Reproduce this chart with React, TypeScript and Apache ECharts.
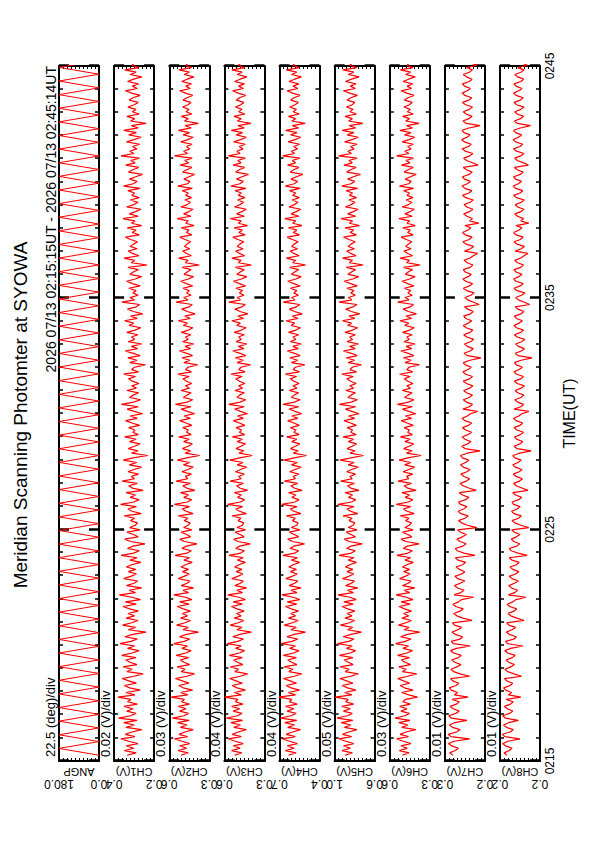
import React, { useEffect, useRef } from "react";
import * as echarts from "echarts";

const FONT = "'Liberation Sans', Arial, sans-serif";

const titleText = "Meridian Scanning Photomter at SYOWA";
const subTitleText = "2026 07/13 02:15:15UT - 2026 07/13 02:45:14UT";
const panelNames = ["ANGP", "CH1(V)", "CH2(V)", "CH3(V)", "CH4(V)", "CH5(V)", "CH6(V)", "CH7(V)", "CH8(V)"];
const perDivLabels = ["22.5 (deg)/div", "0.02 (V)/div", "0.03 (V)/div", "0.04 (V)/div", "0.04 (V)/div", "0.05 (V)/div", "0.03 (V)/div", "0.01 (V)/div", "0.01 (V)/div"];
const maxLabels = ["180.0", "0.4", "0.6", "0.6", "0.7", "1.0", "0.6", "0.3", "0.2"];
const minLabels = ["0.0", "0.2", "0.3", "0.3", "0.4", "0.6", "0.3", "0.2", "0.2"];
const lows = [0, 0.2, 0.3, 0.25, 0.35, 0.55, 0.3, 0.2, 0.15];
const perDiv = [18, 0.02, 0.03, 0.04, 0.04, 0.05, 0.03, 0.01, 0.01];
const timeLabelHours = "02";
const startMinute = 15;
const dataStartSec = 15;
const dataEndSec = 1814;

// scan angle (deg): turning points of the meridian scan
const angp = [
  0,180,0,180,0,180,0,180,0,180,0,180,0,180,0,180,0,180,0,180,
  0,180,0,180,0,180,0,180,0,180,0,180,0,180,0,180,0,180,0,180,
  0,180,0,180,0,180,0,180,0,180,0,180,0,180,0,180,0,180,0,180,
  0,180,0,180,0,180,0,180,0,180,0,180,0,180,0,180,0,180,0,180,
  0,180,0,180,0,180,0,180,0,180,0,180,0,180,0,180,0,180,0,180,
  0,180,0
];

// channel values in mV
const ch1 = [
  335,290,348,302,339,281,327,366,296,344,310,262,341,299,352,285,378,318,291,337,
  305,351,284,333,316,381,296,341,270,322,349,289,327,360,301,255,336,310,355,286,
  320,342,291,362,309,276,333,297,371,316,284,346,306,240,329,293,358,312,280,340,
  298,331,279,322,356,290,344,268,311,374,293,325,262,338,301,282,352,317,288,329,
  292,339,313,266,321,285,365,302,274,333,306,246,318,347,280,303,336,270,322,295,
  283,318,297,349,264,310,331,289,368,301,275,320,293,340,255,309,327,284,360,298,
  314,278,331,300,263,324,287,354,306,232,313,281,329,298,270,323,290,347,279,307,
  296,327,272,311,343,284,320,258,300,335,279,364,302,268,323,305,277,336,289,312,
  276,309,328,293,352,278,313,298,244,322,285,331,270,304,345,283,314,262,329,297,
  313,281,337,295,267,325,302,348,284,318,257,303,333,290,272,361,299,321,280,306,
  290,327,270,308,338,295,263,321,304,279,331,236,314,297,350,276,308,330,285,320,
  303,283,318,344,274,309,291,334,262,313,296,356,279,324,293,266,337,302,281,319,
  275,311,298,331,270,353,304,285,323,292,258,328,306,277,342,295,317,273,366,301,
  322,286,308,272,338,301,265,327,289,352,280,314,240,318,297,336,274,309,291,331,
  299,279,325,306,270,312,344,284,309,278,333,302,262,320,290,347,276,311,296,304
];
const ch2 = [
  512,458,533,470,520,447,505,560,463,527,482,420,517,466,538,451,576,490,455,522,
  474,532,449,508,486,586,461,515,425,495,529,452,502,554,469,410,511,480,540,447,
  489,518,455,548,475,436,506,462,566,487,446,524,472,380,498,458,545,482,440,515,
  463,503,441,495,540,452,522,430,480,565,455,498,418,511,466,444,532,489,449,501,
  456,512,478,428,490,447,556,466,434,505,472,392,486,521,440,469,510,431,492,458,
  443,487,460,531,421,474,504,448,562,465,432,491,455,516,408,470,498,442,548,461,
  479,434,505,461,420,493,447,539,470,372,480,440,501,459,427,492,450,528,435,471,
  457,498,430,475,521,442,489,410,463,511,437,553,466,424,494,468,436,512,449,478,
  432,470,497,451,534,433,478,460,387,490,445,503,426,467,524,440,481,417,499,458,
  478,438,510,455,423,494,463,532,442,483,406,465,506,450,428,548,460,492,437,470,
  449,497,425,470,514,456,418,489,466,436,503,375,480,458,530,434,469,500,446,486,
  466,440,482,521,431,471,452,509,415,476,457,540,437,492,453,422,512,465,441,484,
  433,476,457,502,427,535,463,445,490,451,410,499,469,430,518,455,484,428,560,462,
  492,446,471,429,513,461,420,495,448,531,436,480,382,486,458,509,430,474,452,500,
  460,437,496,469,424,478,522,443,475,434,507,465,416,488,449,527,433,476,455,468
];
const ch3 = [
  548,476,578,492,560,462,540,610,481,571,510,430,556,489,585,468,628,520,474,562,
  497,577,464,541,515,648,480,550,440,522,572,470,533,598,492,418,545,507,590,466,
  518,557,472,600,499,448,538,480,620,516,458,566,496,380,526,475,592,512,455,551,
  482,530,452,523,580,470,562,440,505,615,468,528,428,545,490,459,575,517,464,532,
  474,547,505,440,520,461,604,488,450,536,497,392,512,558,452,493,543,438,524,470,
  456,513,484,572,430,498,535,467,617,489,448,518,479,550,418,496,528,460,592,482,
  507,450,539,487,428,522,463,596,496,372,504,457,533,485,440,521,470,570,447,500,
  478,532,445,500,560,460,520,420,488,548,452,606,492,436,524,497,451,545,468,508,
  446,499,536,472,582,443,506,485,389,523,460,539,437,492,566,455,510,425,534,480,
  508,452,552,479,433,527,490,576,458,515,415,493,545,474,440,605,488,522,454,500,
  469,535,437,498,561,478,426,524,492,452,540,380,511,482,574,447,499,537,463,521,
  496,456,515,566,443,506,470,553,418,511,481,590,449,527,476,431,548,494,457,518,
  444,510,480,542,435,584,495,461,528,474,410,536,500,448,562,483,516,440,610,493,
  525,463,502,440,556,488,430,532,468,580,452,513,386,520,482,553,445,507,474,540,
  486,455,530,499,437,512,568,460,508,450,548,492,425,522,471,575,447,510,481,503
];
const ch4 = [
  660,585,690,604,672,572,650,720,592,683,620,540,668,600,697,578,740,632,585,674,
  606,689,573,652,626,760,590,662,550,633,684,580,644,710,602,528,657,618,702,576,
  628,668,582,712,608,556,648,590,732,625,566,676,604,490,636,583,703,620,562,660,
  590,638,560,632,690,578,672,548,613,726,575,636,535,654,598,566,686,626,572,641,
  582,656,614,548,630,570,716,596,558,644,605,500,620,668,560,600,652,546,632,578,
  564,620,592,681,536,606,643,575,727,596,555,626,587,658,525,604,636,568,701,590,
  614,557,646,594,534,630,571,705,603,480,611,564,640,592,547,628,577,678,553,607,
  585,640,552,607,668,567,627,528,595,655,558,714,600,543,631,604,558,652,575,615,
  553,606,643,579,690,550,613,592,497,630,567,646,544,599,673,562,617,532,641,587,
  615,559,659,586,540,634,597,683,565,622,522,600,652,581,547,712,595,629,561,607,
  576,642,544,605,668,585,533,631,599,559,647,488,618,589,681,554,606,644,570,628,
  603,563,622,673,550,613,577,660,525,618,588,697,556,634,583,538,655,601,564,625,
  551,617,587,649,542,691,602,568,635,581,517,643,607,555,669,590,623,547,717,600,
  632,570,609,547,663,595,537,639,575,687,559,620,493,627,589,660,552,614,581,647,
  593,562,637,606,544,619,675,567,615,557,655,599,532,629,578,682,554,617,588,610
];
const ch5 = [
  922,828,958,852,938,812,908,996,838,952,873,772,928,846,968,823,1020,888,830,940,
  853,960,813,912,880,1045,835,925,785,888,955,820,900,985,848,755,918,868,980,818,
  878,932,822,990,852,788,902,830,1015,872,808,942,846,715,888,825,978,866,800,921,
  834,895,798,885,958,818,935,780,858,1008,815,890,760,912,842,802,952,872,810,896,
  822,915,862,776,880,808,995,840,792,900,848,705,868,930,790,845,905,770,880,818,
  798,870,832,945,760,850,898,810,1010,838,786,876,826,918,745,848,888,803,975,830,
  860,789,900,835,755,880,806,982,846,690,857,798,895,833,775,878,812,944,782,850,
  825,893,778,850,932,800,876,745,835,915,788,990,842,766,884,846,790,910,812,860,
  780,850,897,816,960,776,858,830,716,880,800,902,768,840,940,792,862,752,895,826,
  862,790,920,823,762,888,838,953,797,870,736,843,910,818,770,995,834,878,791,848,
  808,896,768,848,932,823,750,883,840,788,905,692,866,827,950,782,848,900,803,880,
  845,794,870,938,776,858,811,920,740,866,826,968,786,886,818,756,915,842,795,874,
  776,864,826,905,762,960,845,798,886,815,728,898,850,781,933,830,872,770,1000,840,
  886,806,852,768,925,835,755,894,810,956,788,866,698,876,828,920,776,858,820,902,
  830,798,893,848,765,865,940,790,854,782,914,839,744,880,809,946,774,860,822,845
];
const ch6 = [
  505,455,528,468,515,442,498,548,460,522,478,405,510,463,532,449,560,487,452,516,
  470,525,445,502,481,392,458,512,425,490,522,450,497,540,466,398,505,477,532,444,
  485,513,452,541,472,430,501,458,556,484,440,518,468,375,492,455,535,479,437,509,
  458,497,437,489,530,448,515,425,475,552,450,493,412,504,462,440,526,484,446,496,
  451,505,473,423,486,443,546,462,430,499,468,380,481,515,435,465,504,425,487,454,
  437,481,455,520,416,468,498,443,551,460,427,485,450,509,402,466,492,437,538,457,
  474,428,500,456,413,488,442,530,465,365,475,434,496,454,420,487,446,520,430,466,
  452,492,424,470,514,436,483,405,457,505,431,542,460,418,489,463,432,506,444,472,
  426,465,491,446,526,428,472,455,378,485,439,497,420,461,517,435,476,410,494,453,
  473,432,504,450,417,488,458,524,436,478,400,460,500,444,422,540,456,486,431,464,
  443,491,419,465,508,451,410,483,461,430,497,372,474,452,522,428,463,494,440,481,
  460,434,476,514,425,466,446,503,408,471,451,531,431,486,447,415,506,459,435,478,
  427,470,452,496,421,527,458,439,484,445,402,492,463,424,512,449,478,422,548,456,
  486,440,465,423,507,455,412,489,442,524,430,474,380,480,452,503,424,468,446,494,
  454,431,490,463,418,472,515,437,469,428,500,459,409,482,443,520,427,470,449,462
];
const ch7 = [
  280,288,274,266,283,291,277,238,285,292,271,262,281,289,276,245,284,290,273,264,
  279,287,271,264,282,242,276,268,284,289,272,265,280,286,238,262,278,285,270,260,
  275,283,266,259,278,286,271,236,279,284,262,256,274,282,268,258,276,281,232,255,
  270,278,262,254,273,280,266,258,228,277,260,252,268,276,262,250,268,275,258,250,
  264,272,256,248,267,274,225,252,269,274,255,247,262,270,256,246,261,268,220,244,
  258,266,250,242,260,267,253,245,261,266,248,240,256,264,222,240,255,262,246,238,
  252,260,245,237,254,261,248,240,256,261,244,212,250,258,243,235,250,257,242,233,
  248,256,241,233,250,257,244,236,218,255,239,231,246,254,239,231,246,253,238,230,
  246,254,238,231,248,255,242,234,249,254,237,210,244,252,237,229,244,251,236,228,
  245,253,237,230,247,254,241,233,248,253,236,229,243,251,214,228,243,250,235,227,
  246,254,238,231,248,255,242,234,249,254,237,230,244,252,237,229,218,251,236,228,
  247,255,239,232,249,256,243,235,250,215,238,231,245,253,238,230,245,252,237,229,
  248,256,240,233,250,257,244,236,251,256,239,232,246,254,217,231,246,253,238,230,
  249,257,241,234,251,258,245,237,252,257,240,212,247,255,240,232,247,254,239,231,
  248,256,240,233,250,257,244,236,251,256,239,232,246,254,239,231,246,220,238,230
];
const ch8 = [
  233,240,227,220,236,243,230,200,238,244,225,217,234,241,229,204,237,243,226,218,
  232,239,224,217,235,198,229,221,236,241,225,218,233,239,196,215,231,238,223,214,
  228,235,219,212,231,238,223,193,231,236,215,209,227,234,220,211,228,233,190,208,
  223,230,215,208,226,232,218,210,185,229,213,206,221,228,214,204,220,227,211,203,
  218,225,209,202,220,227,182,205,222,227,208,201,215,222,209,200,214,221,178,198,
  213,220,204,197,215,221,207,200,216,220,203,196,211,218,180,195,210,216,201,194,
  210,217,202,195,212,218,205,197,213,218,201,172,208,215,200,193,208,214,199,191,
  208,215,200,193,210,216,203,195,178,215,198,191,206,213,198,190,206,212,197,189,
  207,214,198,191,209,215,202,194,209,214,197,170,205,212,197,189,204,211,196,188,
  207,214,198,191,209,215,202,194,209,214,197,190,205,212,176,189,204,211,196,188,
  208,215,199,192,210,216,203,195,210,215,198,191,206,213,198,190,180,212,197,189,
  208,215,199,192,210,216,203,195,210,178,198,191,206,213,198,190,206,212,197,189,
  209,216,200,193,211,217,204,196,211,216,199,192,207,214,179,191,207,213,198,190,
  209,216,200,193,211,217,204,196,211,216,199,174,207,214,199,191,207,213,198,190,
  208,215,199,192,210,216,203,195,210,215,198,191,206,213,198,190,206,181,197,189
];

const channels = [ch1, ch2, ch3, ch4, ch5, ch6, ch7, ch8];

// layout (landscape frame, 842 x 595, then rotated onto the portrait page)
const W = 842;
const H = 595;
const PLOT_LEFT = 81;
const PLOT_RIGHT = 776;
const PANEL_TOP0 = 59;
const PANEL_PITCH = 55.125;
const PANEL_H = 40;
const VALUE_LABEL_X = 58;

function toSeries(values: number[], idx: number, scale: number) {
  const n = values.length;
  return values.map((v, i) => [
    dataStartSec + (i * (dataEndSec - dataStartSec)) / (n - 1),
    (v * scale - lows[idx]) / perDiv[idx],
  ]);
}

function buildOption() {
  const grids: any[] = [];
  const xAxes: any[] = [];
  const yAxes: any[] = [];
  const series: any[] = [];
  const graphics: any[] = [];
  const black = "#000";

  for (let i = 0; i < 9; i++) {
    const top = PANEL_TOP0 + PANEL_PITCH * i;
    grids.push({ left: PLOT_LEFT, right: W - PLOT_RIGHT, top, height: PANEL_H, show: false });
    const baseX = {
      gridIndex: i,
      type: "value",
      min: 0,
      max: 1800,
      interval: 600,
      axisLine: { show: true, onZero: false, lineStyle: { color: black, width: 2 } },
      axisTick: { show: true, inside: true, length: 10, lineStyle: { color: black, width: 2.5 } },
      minorTick: { show: true, splitNumber: 10, length: 4, lineStyle: { color: black, width: 1.5 } },
      splitLine: { show: false },
      minorSplitLine: { show: false },
    };
    xAxes.push({
      ...baseX,
      position: "bottom",
      axisLabel: {
        show: i === 8,
        margin: 4,
        color: black,
        fontSize: 12,
        fontFamily: FONT,
        formatter: (v: number) => timeLabelHours + String(startMinute + v / 60).padStart(2, "0"),
      },
      name: i === 8 ? "TIME(UT)" : "",
      nameLocation: "middle",
      nameGap: 21,
      nameMoveOverlap: false,
      nameTextStyle: { color: black, fontSize: 16, fontFamily: FONT },
    });
    xAxes.push({ ...baseX, position: "top", axisLabel: { show: false } });

    const baseY = {
      gridIndex: i,
      type: "value",
      min: 0,
      max: 10,
      interval: 1,
      axisLine: { show: true, onZero: false, lineStyle: { color: black, width: 2 } },
      axisTick: { show: true, inside: true, length: 3, lineStyle: { color: black, width: 1 } },
      axisLabel: { show: false },
      splitLine: { show: false },
    };
    yAxes.push({
      ...baseY,
      position: "left",
      name: panelNames[i],
      nameLocation: "middle",
      nameRotate: 90,
      nameGap: 5,
      nameMoveOverlap: false,
      nameTextStyle: { color: black, fontSize: 11, fontFamily: FONT },
    });
    yAxes.push({ ...baseY, position: "right" });

    const data = i === 0 ? toSeries(angp, 0, 1) : toSeries(channels[i - 1], i, 0.001);
    series.push({
      type: "line",
      xAxisIndex: 2 * i,
      yAxisIndex: 2 * i,
      data,
      showSymbol: false,
      symbol: "none",
      silent: true,
      lineStyle: { color: "#ff0000", width: i === 0 ? 1 : 1.2 },
      z: 1,
    });

    graphics.push({
      type: "text",
      x: PLOT_LEFT + 4,
      y: top - 2,
      style: {
        text: perDivLabels[i],
        fill: black,
        fontSize: 13,
        fontFamily: FONT,
        textAlign: "left",
        textVerticalAlign: "bottom",
      },
    });
    [
      { text: maxLabels[i], y: top },
      { text: minLabels[i], y: top + PANEL_H },
    ].forEach((lab) => {
      graphics.push({
        type: "text",
        x: VALUE_LABEL_X,
        y: lab.y,
        rotation: Math.PI / 2,
        style: {
          text: lab.text,
          fill: black,
          fontSize: 12,
          fontFamily: FONT,
          textAlign: "center",
          textVerticalAlign: "middle",
        },
      });
    });
  }

  graphics.push({
    type: "text",
    x: 427,
    y: 20,
    style: {
      text: titleText,
      fill: black,
      fontSize: 19,
      fontFamily: FONT,
      textAlign: "center",
      textVerticalAlign: "middle",
    },
  });
  graphics.push({
    type: "text",
    x: PLOT_RIGHT,
    y: 51,
    style: {
      text: subTitleText,
      fill: black,
      fontSize: 14,
      fontFamily: FONT,
      textAlign: "right",
      textVerticalAlign: "middle",
    },
  });

  return {
    animation: false,
    backgroundColor: "#ffffff",
    grid: grids,
    xAxis: xAxes,
    yAxis: yAxes,
    series,
    graphic: graphics,
  };
}

export default function App() {
  const ref = useRef<HTMLDivElement>(null);
  useEffect(() => {
    document.body.style.overflow = "hidden";
    const chart = echarts.init(ref.current as HTMLDivElement, null, { renderer: "svg" });
    chart.setOption(buildOption() as any);
    return () => chart.dispose();
  }, []);
  return (
    <div
      ref={ref}
      style={{
        position: "absolute",
        left: 0,
        top: 0,
        width: W,
        height: H,
        transform: "translate(0px, 842px) rotate(-90deg)",
        transformOrigin: "0 0",
        background: "#fff",
      }}
    />
  );
}
